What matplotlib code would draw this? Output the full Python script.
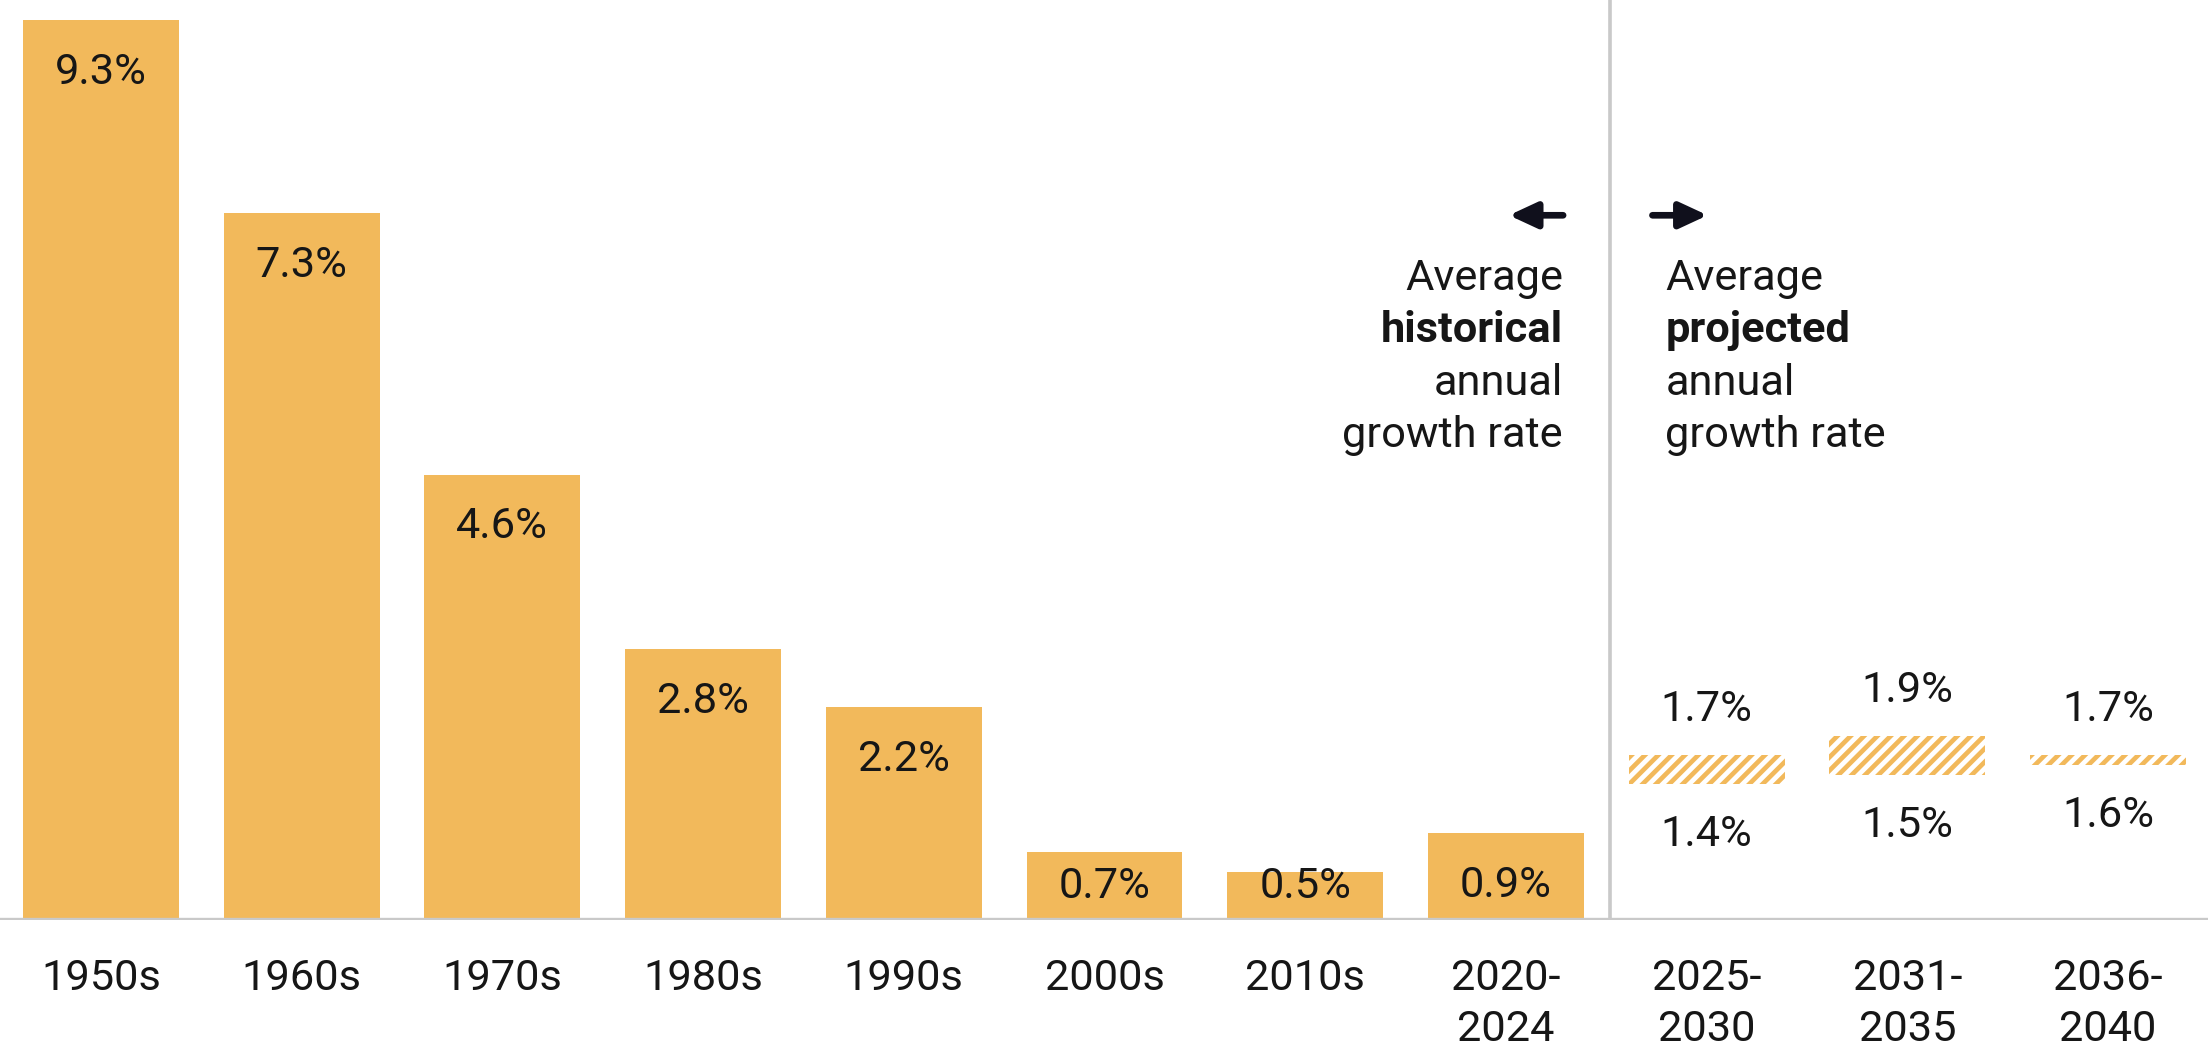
import matplotlib
matplotlib.use("Agg")
import matplotlib.pyplot as plt
import numpy as np

# ---- data ----
categories = ["1950s", "1960s", "1970s", "1980s", "1990s", "2000s", "2010s",
              "2020-\n2024", "2025-\n2030", "2031-\n2035", "2036-\n2040"]
historical = [9.3, 7.3, 4.6, 2.8, 2.2, 0.7, 0.5, 0.9]
proj_low = [1.4, 1.5, 1.6]
proj_high = [1.7, 1.9, 1.7]

# ---- style ----
BAR = "#F2B95B"
TXT = "#161616"
ARROW = "#10101c"
GRID = "#c9c9c9"
FS = 26

plt.rcParams["font.family"] = ["Roboto", "DejaVu Sans"]
plt.rcParams["hatch.linewidth"] = 2.8
plt.rcParams["hatch.color"] = BAR

DPI = 120
fig = plt.figure(figsize=(2208 / DPI, 1049 / DPI), dpi=DPI)
ax = fig.add_axes([0, 129 / 1049, 1, 920 / 1049])

x = np.arange(len(categories))
n_hist = len(historical)
xh = x[:n_hist]
xp = x[n_hist:]
W = 0.777

ax.bar(xh, historical, width=W, color=BAR, linewidth=0, zorder=2)
heights = [h - l for h, l in zip(proj_high, proj_low)]
ax.bar(xp, heights, bottom=proj_low, width=W, color="white", edgecolor=BAR,
       hatch="///", linewidth=0, zorder=2)

# value labels
for xi, v in zip(xh, historical):
    y = max(v - 0.54, 0.35)
    ax.text(xi, y, f"{v:.1f}%", ha="center", va="center", fontsize=FS, color=TXT, zorder=3)
for xi, lo, hi in zip(xp, proj_low, proj_high):
    ax.text(xi, hi + 0.47, f"{hi:.1f}%", ha="center", va="center", fontsize=FS, color=TXT)
    ax.text(xi, lo - 0.52, f"{lo:.1f}%", ha="center", va="center", fontsize=FS, color=TXT)

# baseline and divider
ax.axhline(0, color=GRID, lw=2.6, zorder=4)
div = n_hist - 0.48
ax.axvline(div, ymin=0, ymax=1, color=GRID, lw=2.2, zorder=1)

# annotations
line_y = [6.63, 6.085, 5.545, 5.01]
left_lines = [("Average", "normal"), ("historical", "bold"), ("annual", "normal"), ("growth rate", "normal")]
right_lines = [("Average", "normal"), ("projected", "bold"), ("annual", "normal"), ("growth rate", "normal")]
xl = div - 0.235
xr = div + 0.275
for (t, w), yy in zip(left_lines, line_y):
    ax.text(xl, yy, t, ha="right", va="center", fontsize=FS, fontweight=w, color=TXT)
for (t, w), yy in zip(right_lines, line_y):
    ax.text(xr, yy, t, ha="left", va="center", fontsize=FS, fontweight=w, color=TXT)

arrow_y = 7.28
ap = dict(arrowstyle="-|>,head_length=1.4,head_width=0.65", lw=4.0, color=ARROW,
          shrinkA=0, shrinkB=0)
ax.annotate("", xy=(xl - 0.27, arrow_y), xytext=(xl + 0.0, arrow_y), arrowprops=ap)
ax.annotate("", xy=(xr + 0.21, arrow_y), xytext=(xr - 0.065, arrow_y), arrowprops=ap)

ax.set_xlim(-0.503, 10.498)
ax.set_ylim(0, 9.504)
ax.set_xticks(x)
ax.set_xticklabels(categories, fontsize=FS, color=TXT, linespacing=1.3)
ax.tick_params(axis="x", length=0, pad=23)
ax.set_yticks([])
for s in ax.spines.values():
    s.set_visible(False)

fig.savefig("out.png", dpi=DPI, facecolor="white")
